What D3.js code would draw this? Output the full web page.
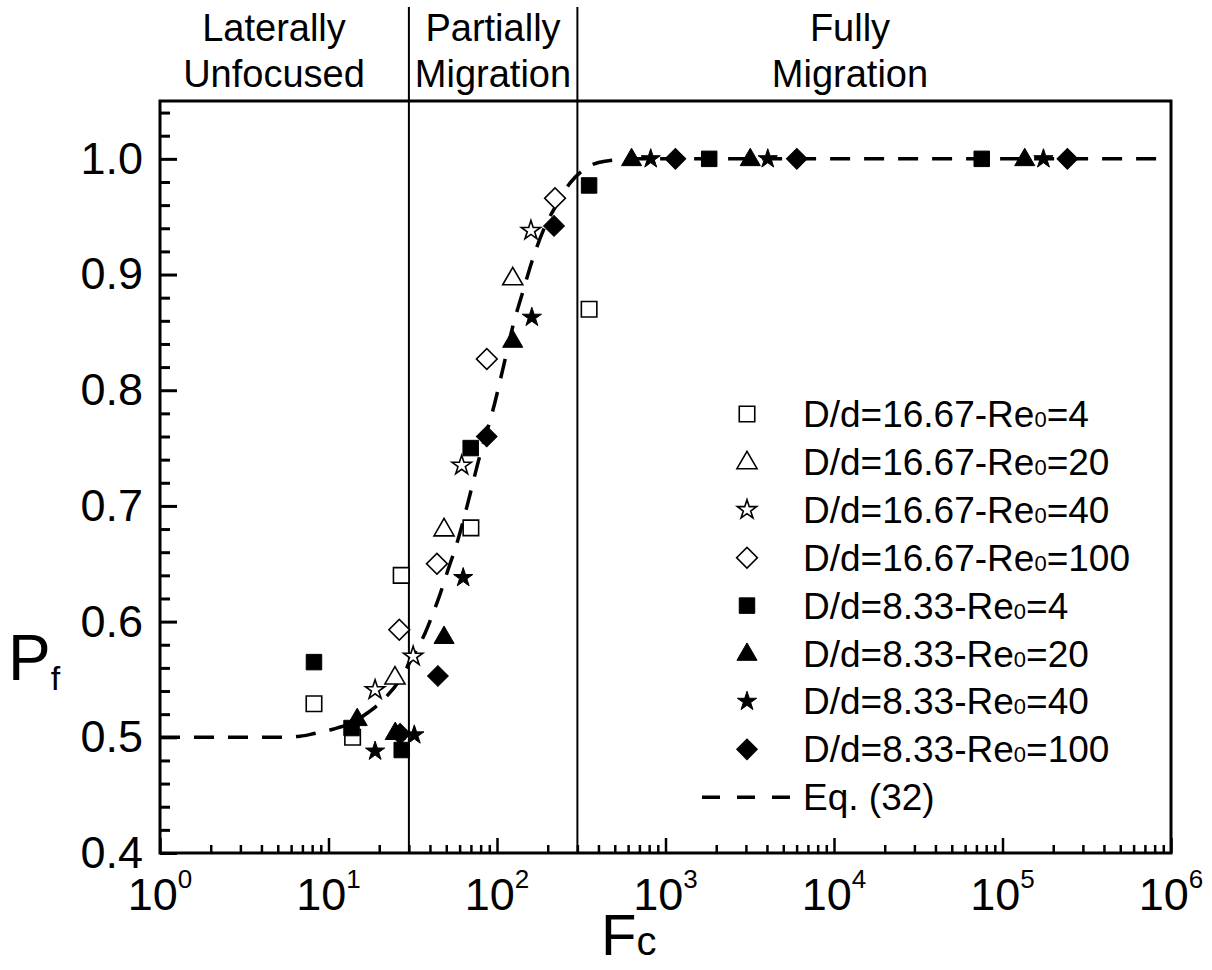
<!DOCTYPE html>
<html>
<head>
<meta charset="utf-8">
<script src="https://cdn.jsdelivr.net/npm/d3@7"></script>
<style>
  body { margin: 0; background: #fff; }
  svg { display: block; }
  text { font-family: "Liberation Sans", Arial, sans-serif; fill: #000; }
</style>
</head>
<body>
<svg id="chart" width="1212" height="970"></svg>
<script>
// ---- data (Fc, Pf) ----
let seriesNames = ["D/d=16.67-Re0=4", "D/d=16.67-Re0=20", "D/d=16.67-Re0=40", "D/d=16.67-Re0=100",
                   "D/d=8.33-Re0=4", "D/d=8.33-Re0=20", "D/d=8.33-Re0=40", "D/d=8.33-Re0=100"];

let open4 = [[8.2, 0.529], [13.9, 0.500], [27, 0.640], [70, 0.681], [352, 0.870]];
let open20 = [[24.8, 0.552], [48.5, 0.680], [124, 0.897]];
let open40 = [[18.9, 0.541], [31.8, 0.570], [61.7, 0.735], [159, 0.938]];
let open100 = [[26.3, 0.593], [44, 0.650], [87, 0.827], [221, 0.966]];
let filled4 = [[8.2, 0.565], [13.7, 0.508], [27.2, 0.489], [69.8, 0.750], [352, 0.977], [1817, 1.0], [75300, 1.0]];
let filled20 = [[14.8, 0.516], [24.9, 0.504], [48.5, 0.587], [124, 0.843], [629, 1.0], [3184, 1.0], [135500, 1.0]];
let filled40 = [[18.9, 0.488], [32.3, 0.502], [63, 0.638], [161, 0.863], [817, 1.0], [4045, 1.0], [175000, 1.0]];
let filled100 = [[26.6, 0.503], [44.6, 0.553], [86.9, 0.760], [218, 0.942], [1145, 1.0], [6016, 1.0], [242700, 1.0]];

// Eq. (32) curve
let eqCurve = [[1, 0.5], [5, 0.5], [6.8, 0.501], [8.1, 0.503], [10.6, 0.507], [14, 0.513], [17, 0.521],
               [21, 0.532], [26.6, 0.550], [31.7, 0.570], [37.4, 0.590], [41.7, 0.607], [46, 0.624],
               [51, 0.644], [59, 0.672], [67, 0.702], [77, 0.737], [97, 0.789], [109, 0.820],
               [124, 0.855], [143, 0.886], [161, 0.911], [188, 0.938], [227, 0.961], [271, 0.979],
               [330, 0.991], [437, 0.998], [700, 1.0], [1000000, 1.0]];

let regionLines = [30, 300];
let regionLabels = [["Laterally", "Unfocused"], ["Partially", "Migration"], ["Fully", "Migration"]];
let regionCentres = [274, 493, 850];
let yTicks = [0.4, 0.5, 0.6, 0.7, 0.8, 0.9, 1.0];
let xDecades = [0, 1, 2, 3, 4, 5, 6];

let series = [
    {name: seriesNames[0], data: open4, shape: "square", fill: "#fff"},
    {name: seriesNames[1], data: open20, shape: "triangle", fill: "#fff"},
    {name: seriesNames[2], data: open40, shape: "star", fill: "#fff"},
    {name: seriesNames[3], data: open100, shape: "diamond", fill: "#fff"},
    {name: seriesNames[4], data: filled4, shape: "square", fill: "#000"},
    {name: seriesNames[5], data: filled20, shape: "triangle", fill: "#000"},
    {name: seriesNames[6], data: filled40, shape: "star", fill: "#000"},
    {name: seriesNames[7], data: filled100, shape: "diamond", fill: "#000"}
];

const margin = {top: 101, right: 41, bottom: 117, left: 160};
const width = 1212, height = 970;

let svg = d3.select("#chart");

let x = d3.scaleLog().domain([1, 1e6]).range([margin.left, width - margin.right]);
let y = d3.scaleLinear().domain([0.4, 1.05]).range([height - margin.bottom, margin.top]);

// symbol generators
function symbolPath(shape) {
    if (shape == "square") return d3.symbol().type(d3.symbolSquare).size(240)();
    if (shape == "triangle") return d3.symbol().type(d3.symbolTriangle).size(175)();
    if (shape == "star") return d3.symbol().type(d3.symbolStar).size(115)();
    if (shape == "diamond") return d3.symbol().type(d3.symbolSquare).size(215)();
}
function symbolTransform(shape, px, py) {
    if (shape == "diamond") return "translate(" + px + "," + py + ") rotate(45)";
    if (shape == "triangle") return "translate(" + px + "," + (py + 1) + ")";
    return "translate(" + px + "," + py + ")";
}

// region separators
svg.selectAll("line.region").data(regionLines).enter().append("line")
    .attr("class", "region")
    .attr("x1", d => x(d)).attr("x2", d => x(d))
    .attr("y1", 7).attr("y2", y(0.4))
    .attr("stroke", "#000").attr("stroke-width", 2);

// region titles
regionLabels.forEach((lines, i) => {
    lines.forEach((t, j) => {
        svg.append("text")
            .attr("x", regionCentres[i])
            .attr("y", 41 + j * 46)
            .attr("text-anchor", "middle")
            .style("font-size", "38px")
            .text(t);
    });
});

// x axis
let xMinor = [];
for (let e = 0; e < 6; e++) {
    for (let m = 2; m <= 9; m++) xMinor.push(m * Math.pow(10, e));
}
let xAxisMajor = d3.axisBottom(x).tickValues(xDecades.map(d => Math.pow(10, d)))
    .tickSizeInner(-15).tickSizeOuter(0).tickFormat("");
let xAxisMinor = d3.axisBottom(x).tickValues(xMinor)
    .tickSizeInner(-8).tickSizeOuter(0).tickFormat("");

let gx = svg.append("g").attr("transform", "translate(0," + y(0.4) + ")");
gx.call(xAxisMajor);
gx.append("g").call(xAxisMinor);
gx.selectAll(".domain").remove();
gx.selectAll(".tick line").attr("stroke", "#000").attr("stroke-width", 2.5);

let xLabels = svg.selectAll("text.xlab").data(xDecades).enter().append("text")
    .attr("class", "xlab")
    .attr("x", d => x(Math.pow(10, d)))
    .attr("y", y(0.4) + 57)
    .attr("text-anchor", "middle")
    .style("font-size", "45px");
xLabels.append("tspan").text("10");
xLabels.append("tspan").attr("dy", -22).style("font-size", "26px").text(d => d);

// y axis
let yMinor = d3.range(0.42, 1.049, 0.02).filter(v => Math.abs(v * 10 - Math.round(v * 10)) > 0.01);
let yAxisMajor = d3.axisLeft(y).tickValues(yTicks).tickSizeInner(-17).tickSizeOuter(0)
    .tickPadding(17).tickFormat(d3.format(".1f"));
let yAxisMinor = d3.axisLeft(y).tickValues(yMinor).tickSizeInner(-10).tickSizeOuter(0).tickFormat("");

let gy = svg.append("g").attr("transform", "translate(" + margin.left + ",0)");
gy.call(yAxisMajor);
gy.append("g").call(yAxisMinor);
gy.selectAll(".domain").remove();
gy.selectAll(".tick line").attr("stroke", "#000").attr("stroke-width", 3);
gy.selectAll(".tick text")
    .style("font-size", "45px")
    .style("font-family", "'Liberation Sans', Arial, sans-serif")
    .attr("fill", "#000");

// frame
svg.append("rect")
    .attr("x", margin.left).attr("y", margin.top)
    .attr("width", width - margin.left - margin.right)
    .attr("height", height - margin.top - margin.bottom)
    .attr("fill", "none").attr("stroke", "#000").attr("stroke-width", 3);

// Eq. (32) dashed line
let line = d3.line().x(d => x(d[0])).y(d => y(d[1])).curve(d3.curveMonotoneX);
svg.append("path")
    .datum(eqCurve)
    .attr("d", line)
    .attr("fill", "none")
    .attr("stroke", "#000")
    .attr("stroke-width", 3.5)
    .attr("stroke-dasharray", "20,14");

// markers
series.forEach(s => {
    svg.append("g").selectAll("path").data(s.data).enter().append("path")
        .attr("d", symbolPath(s.shape))
        .attr("transform", d => symbolTransform(s.shape, x(d[0]), y(d[1])))
        .attr("fill", s.fill)
        .attr("stroke", "#000")
        .attr("stroke-width", s.fill == "#fff" ? 1.6 : 1);
});

// legend
let legendX = 747, legendTextX = 803, legendY0 = 414, legendStep = 47.9;
series.forEach((s, i) => {
    let ly = legendY0 + i * legendStep;
    svg.append("path")
        .attr("d", symbolPath(s.shape))
        .attr("transform", symbolTransform(s.shape, legendX, ly))
        .attr("fill", s.fill)
        .attr("stroke", "#000")
        .attr("stroke-width", s.fill == "#fff" ? 1.6 : 1);
    let parts = s.name.split("Re0");
    let t = svg.append("text")
        .attr("x", legendTextX).attr("y", ly + 13)
        .style("font-size", "37px");
    t.append("tspan").text(parts[0] + "Re");
    t.append("tspan").style("font-size", "22px").text("0");
    t.append("tspan").text(parts[1]);
});
let eqY = legendY0 + 8 * legendStep;
svg.append("line")
    .attr("x1", 702).attr("x2", 790).attr("y1", eqY).attr("y2", eqY)
    .attr("stroke", "#000").attr("stroke-width", 3.5)
    .attr("stroke-dasharray", "18,17");
svg.append("text")
    .attr("x", legendTextX).attr("y", eqY + 13)
    .style("font-size", "37px")
    .text("Eq. (32)");

// axis titles
let yTitle = svg.append("text").attr("x", 8).attr("y", 680).style("font-size", "64px");
yTitle.append("tspan").text("P");
yTitle.append("tspan").attr("dy", 10).style("font-size", "34px").text("f");

let xTitle = svg.append("text").attr("x", 601).attr("y", 955).style("font-size", "58px");
xTitle.append("tspan").text("F");
xTitle.append("tspan").style("font-size", "40px").text("c");
</script>
</body>
</html>
